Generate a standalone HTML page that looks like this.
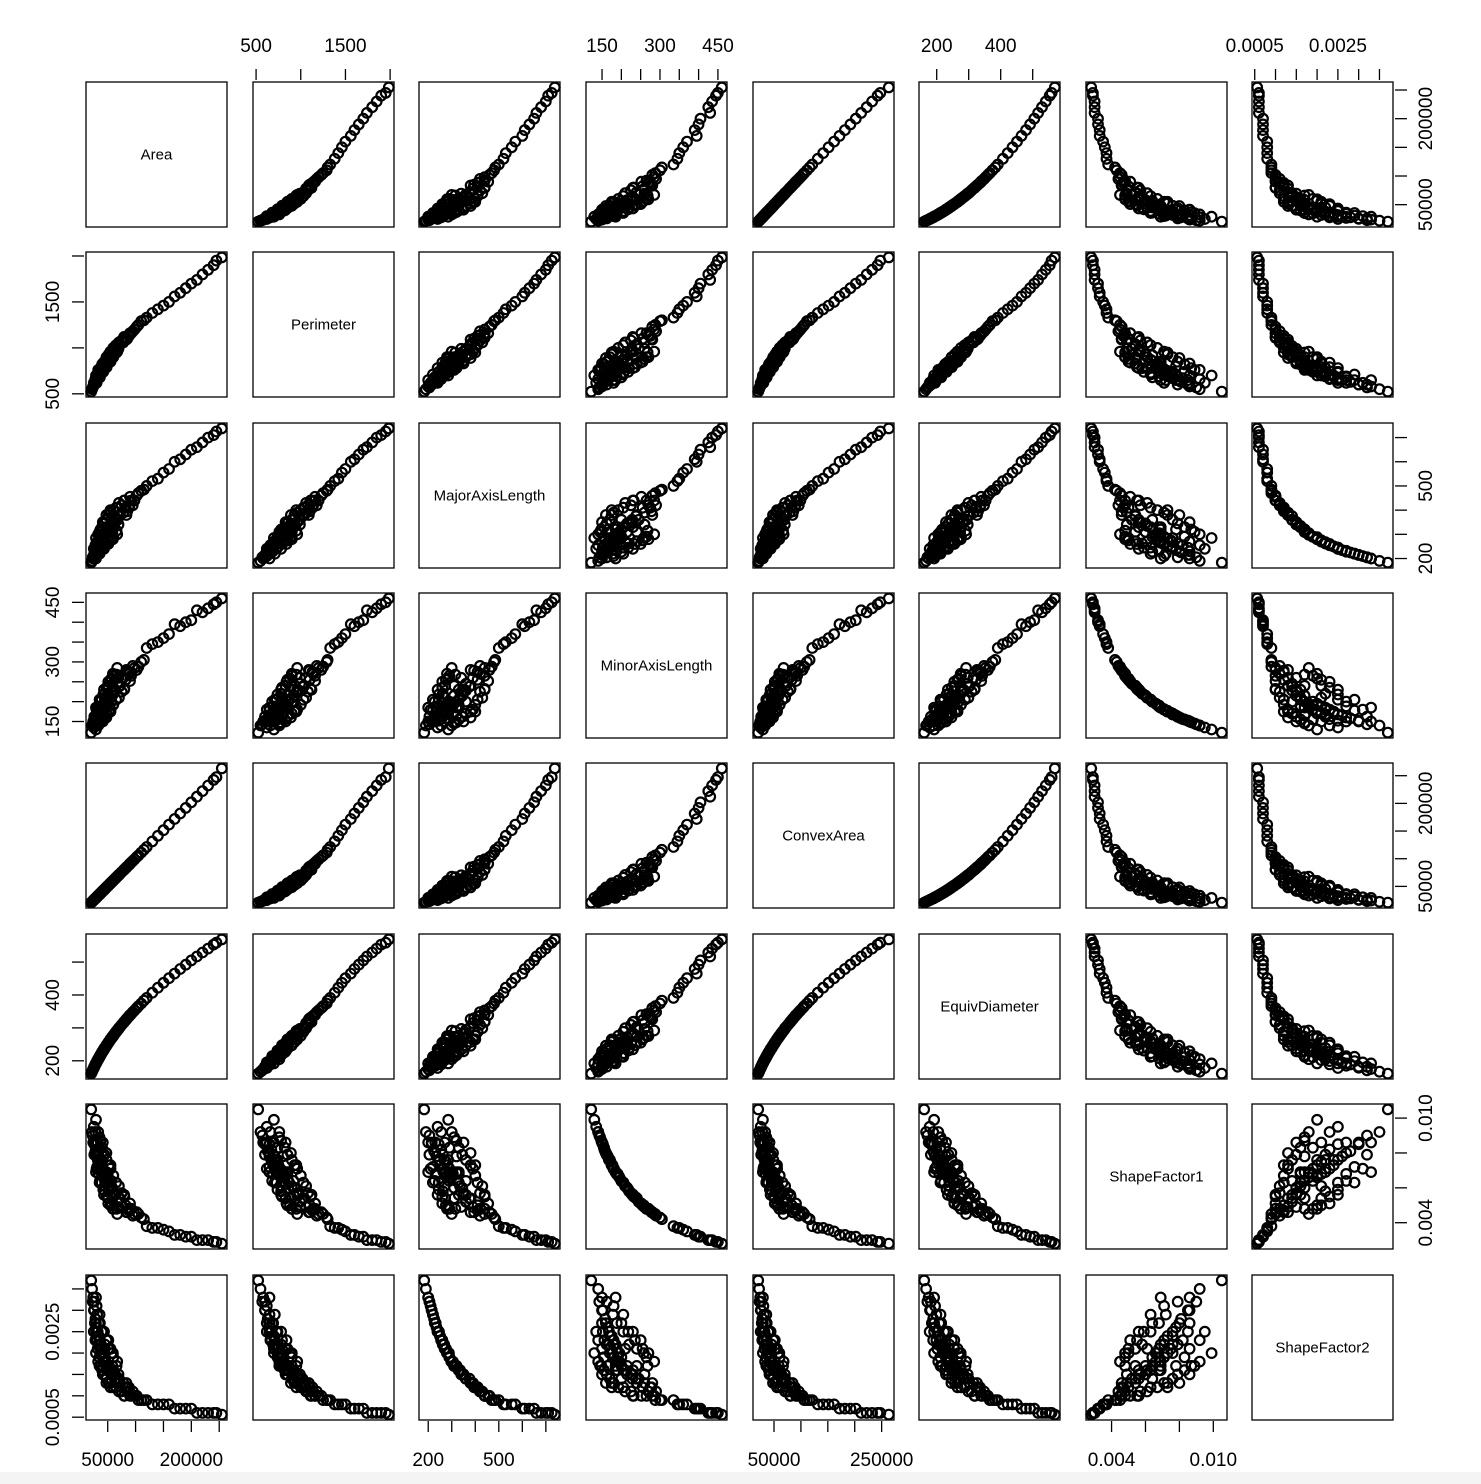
<!DOCTYPE html>
<html><head><meta charset="utf-8"><style>
html,body{margin:0;padding:0;background:#fff;}
svg{display:block;font-family:"Liberation Sans",sans-serif;}
</style></head><body>
<svg id="chart" width="1481" height="1484" viewBox="0 0 1481 1484" xmlns="http://www.w3.org/2000/svg">
<rect x="0" y="1472" width="1481" height="12" fill="#f4f4f4"/>
</svg>
<script>
const varNames = ["Area","Perimeter","MajorAxisLength","MinorAxisLength","ConvexArea","EquivDiameter","ShapeFactor1","ShapeFactor2"];
const area = [20420,22000,24000,26000,28000,30000,32000,34000,36000,38000,40000,42000,44000,25000,28000,32000,35000,30000,36000,42000,48000,55000,60000,33000,40000,48000,55000,65000,75000,45000,52000,60000,68000,78000,88000,95000,62000,72000,82000,92000,102000,110000,47000,50000,38000,46000,53000,120000,140000,160000,180000,200000,220000,240000,254616,170000,210000,230000,
 23000,27000,29000,31000,33000,35000,37000,39000,41000,43000,45000,50000,55000,58000,64000,70000,26000,31000,34000,39000,45000,51000,57000,66000,85000,98000,29000,37000,44000,52000,60000,70000,80000,90000,105000,115000,130000,150000,190000,245000,
 29000,35400,43300,51000,59300,67100,41400,41200,47700,55000,56500,69400,83500,89000,58400,44500,33400,28900,47900,43300,79400,35300,37400,25300,63200];
const perimeter = [524,550,580,600,630,650,670,690,710,725,745,760,780,620,660,700,740,620,680,740,790,850,900,760,820,900,960,1030,1080,800,860,920,990,1060,1130,1180,960,1040,1100,1160,1230,1290,830,850,740,800,870,1330,1420,1500,1600,1700,1800,1900,1985,1560,1740,1850,
 570,620,650,670,690,710,730,750,770,790,810,860,900,930,980,1020,600,650,690,730,780,830,880,950,1100,1200,700,780,850,930,1000,1060,1110,1160,1250,1300,1380,1460,1650,1950,
 650,710,780,840,900,960,800,830,890,950,920,990,1090,1140,900,790,700,650,850,790,1120,760,740,600,960];
const majorAxis = [183,190,200,215,225,235,245,250,258,265,272,280,288,240,255,270,290,210,228,245,260,275,290,300,330,360,390,410,420,290,310,330,360,390,410,420,350,380,410,440,460,480,320,330,285,300,330,500,530,570,610,650,680,710,738,600,660,700,
 205,230,245,255,262,268,275,282,290,298,305,320,335,345,360,375,205,220,232,245,262,272,285,315,395,440,285,320,345,380,400,430,440,455,470,485,520,555,630,725,
 200,220,240,260,280,300,320,350,380,400,360,340,380,420,310,270,250,230,330,290,440,310,265,215,350];
const minorAxis = [122,140,150,152,158,165,168,175,180,185,188,192,195,135,140,150,155,180,200,218,235,255,265,140,155,170,180,205,225,200,215,230,245,260,275,290,225,240,255,265,280,300,185,190,170,195,205,335,350,370,390,405,425,445,460,395,430,435,
 143,150,152,156,162,168,172,177,181,185,190,200,210,215,228,238,162,178,188,205,220,240,258,268,278,285,130,148,162,175,192,210,232,252,288,305,345,360,400,450,
 185,205,230,250,270,285,165,150,160,175,200,260,280,270,240,210,170,160,185,190,230,145,180,150,230];
const convexArea = [20684,22250,24270,26300,28320,30340,32360,34380,36400,38420,40450,42480,44500,25290,28330,32380,35400,30300,36350,42420,48480,55550,60600,33450,40530,48620,55700,65800,75900,45480,52550,60640,68720,78820,88920,96000,62650,72750,82860,92950,103050,111100,47500,50520,38400,46480,53550,121200,141400,161600,181800,202000,222200,242400,263261,171700,212100,232300,
 23230,27270,29290,31310,33330,35350,37370,39390,41410,43430,45450,50500,55550,58580,64640,70700,26260,31310,34340,39390,45450,51510,57570,66660,85850,98980,29290,37370,44440,52520,60600,70700,80800,90900,106050,116150,131300,151500,191900,247450,
 29290,35750,43730,51510,59890,67770,41810,41610,48180,55550,57070,70090,84340,89890,58980,44950,33730,29190,48380,43730,80190,35650,37770,25550,63830];
const equivDiameter = [161,167,175,182,189,195,202,208,214,220,226,231,237,178,189,202,211,195,214,231,247,265,276,205,226,247,265,288,309,239,257,276,294,315,335,348,281,303,323,342,360,374,245,252,220,242,260,391,422,451,479,505,529,553,569,465,517,541,
 171,185,192,199,205,211,217,223,228,234,239,252,265,272,285,299,182,199,208,223,239,255,269,290,329,353,192,217,237,257,276,299,319,339,366,383,407,437,492,559,
 192,212,235,255,275,292,230,229,246,265,268,297,326,337,273,238,206,192,247,235,318,212,218,179,284];
const shapeFactor1 = [0.0105,0.0092,0.0086,0.0085,0.0081,0.0078,0.0076,0.0073,0.0071,0.0069,0.0068,0.0067,0.0066,0.0095,0.0092,0.0086,0.0083,0.0071,0.0064,0.0059,0.0055,0.0050,0.0048,0.0092,0.0083,0.0076,0.0071,0.0063,0.0057,0.0064,0.0060,0.0056,0.0052,0.0049,0.0047,0.0044,0.0057,0.0054,0.0050,0.0048,0.0046,0.0043,0.0069,0.0068,0.0076,0.0066,0.0063,0.0038,0.0037,0.0035,0.0033,0.0032,0.0030,0.0029,0.0028,0.0033,0.0030,0.0030,
 0.0090,0.0086,0.0085,0.0082,0.0079,0.0076,0.0075,0.0073,0.0071,0.0069,0.0068,0.0064,0.0061,0.0060,0.0056,0.0054,0.0079,0.0072,0.0068,0.0063,0.0058,0.0054,0.0050,0.0048,0.0046,0.0045,0.0099,0.0087,0.0079,0.0073,0.0067,0.0061,0.0055,0.0051,0.0045,0.0042,0.0037,0.0036,0.0032,0.0029,
 0.0069,0.0063,0.0056,0.0051,0.0048,0.0045,0.0078,0.0086,0.0080,0.0073,0.0064,0.0049,0.0046,0.0048,0.0054,0.0061,0.0076,0.0080,0.0069,0.0068,0.0056,0.0089,0.0071,0.0086,0.0056];
const shapeFactor2 = [0.0037,0.0035,0.0033,0.0030,0.0028,0.0026,0.0025,0.0024,0.0023,0.0022,0.0021,0.0020,0.0020,0.0025,0.0023,0.0021,0.0019,0.0031,0.0027,0.0025,0.0023,0.0021,0.0019,0.0018,0.0016,0.0014,0.0013,0.0012,0.0011,0.0019,0.0017,0.0016,0.0014,0.0013,0.0012,0.0011,0.0015,0.0013,0.0012,0.0010,0.0010,0.0009,0.0017,0.0016,0.0020,0.0018,0.0016,0.0009,0.0008,0.0008,0.0007,0.0007,0.0006,0.0006,0.00056,0.0007,0.0006,0.0006,
 0.0032,0.0027,0.0025,0.0023,0.0022,0.0022,0.0021,0.0020,0.0019,0.0018,0.0018,0.0017,0.0016,0.0015,0.0014,0.0014,0.0032,0.0029,0.0027,0.0025,0.0022,0.0021,0.0020,0.0017,0.0012,0.0010,0.0020,0.0017,0.0015,0.0013,0.0012,0.0011,0.0010,0.0010,0.0009,0.0009,0.0008,0.0008,0.0007,0.0006,
 0.0033,0.0029,0.0025,0.0023,0.0020,0.0018,0.0017,0.0015,0.0013,0.0012,0.0014,0.0015,0.0013,0.0011,0.0017,0.0021,0.0024,0.0027,0.0016,0.0019,0.0010,0.0017,0.0022,0.0030,0.0015];
const columns = [area,perimeter,majorAxis,minorAxis,convexArea,equivDiameter,shapeFactor1,shapeFactor2];
const tickValues = [
  [50000,100000,150000,200000,250000],
  [500,1000,1500,2000],
  [200,300,400,500,600,700],
  [150,200,250,300,350,400,450],
  [50000,100000,150000,200000,250000],
  [200,300,400,500],
  [0.004,0.006,0.008,0.010],
  [0.0005,0.0010,0.0015,0.0020,0.0025,0.0030,0.0035]
];
const tickLabels = [
  ["50000","","","200000",""],
  ["500","","1500",""],
  ["200","","","500","",""],
  ["150","","","300","","","450"],
  ["50000","","","","250000"],
  ["200","","400",""],
  ["0.004","","","0.010"],
  ["0.0005","","","","0.0025","",""]
];
const rightLabels4 = ["50000","","","200000",""];
const NS="http://www.w3.org/2000/svg";
const svg=document.getElementById('chart');
const PX=[86,253,419,586,753,919,1086,1252], PY=[82,252,423,593,763,934,1104,1275];
const PW=141, PH=145;
function mk(tag,attrs,parent){const e=document.createElementNS(NS,tag);for(const k in attrs)e.setAttribute(k,attrs[k]);(parent||svg).appendChild(e);return e;}
function rng(a){let mn=Math.min(...a),mx=Math.max(...a);const d=(mx-mn)*0.04;return [mn-d,mx+d];}
const ranges=columns.map(rng);
function sx(j,v){const r=ranges[j];return PX[j]+(v-r[0])/(r[1]-r[0])*PW;}
function sy(i,v){const r=ranges[i];return PY[i]+PH-(v-r[0])/(r[1]-r[0])*PH;}
for(let i=0;i<8;i++){for(let j=0;j<8;j++){
  const g=mk('g',{});
  
  
  if(i===j){
    const t=mk('text',{x:PX[j]+PW/2,y:PY[i]+PH/2+5,'text-anchor':'middle','font-size':15},g);
    t.textContent=varNames[i];
    
    
  } else {
    const xs=columns[j], ys=columns[i];
    for(let k=0;k<xs.length;k++){
      const c=mk('circle',{cx:sx(j,xs[k]).toFixed(1),cy:sy(i,ys[k]).toFixed(1),r:4.8,fill:'none',stroke:'#000','stroke-width':2.2},g);
      
      
    }
  }
  const b=mk('rect',{x:PX[j],y:PY[i],width:PW,height:PH,fill:'none',stroke:'#000','stroke-width':1.3},g);
  
  
}}
for(let j=0;j<8;j++){
  const top=(j%2===1);
  const g=mk('g',{});
  
  
  tickValues[j].forEach((v,k)=>{
    const x=sx(j,v);
    if(top){mk('line',{x1:x,x2:x,y1:69,y2:80,stroke:'#000','stroke-width':1.3},g);}
    else{mk('line',{x1:x,x2:x,y1:1421,y2:1432,stroke:'#000','stroke-width':1.3},g);}
    const lab=tickLabels[j][k];
    if(lab){const t=mk('text',{x:x,y:top?52:1466,'text-anchor':'middle','font-size':19},g);t.textContent=lab;
      
      }
  });
}
for(let i=0;i<8;i++){
  const left=(i%2===1);
  const g=mk('g',{});
  
  
  const labs=(i===4)?rightLabels4:tickLabels[i];
  tickValues[i].forEach((v,k)=>{
    const y=sy(i,v);
    if(left){mk('line',{x1:72,x2:84,y1:y,y2:y,stroke:'#000','stroke-width':1.3},g);}
    else{mk('line',{x1:1395,x2:1407,y1:y,y2:y,stroke:'#000','stroke-width':1.3},g);}
    const lab=labs[k];
    if(lab){const tx=left?59:1432;
      const t=mk('text',{x:tx,y:y,'text-anchor':'middle','font-size':19,transform:'rotate(-90 '+tx+' '+y+')'},g);t.textContent=lab;
      
      }
  });
}
</script>
</body></html>
